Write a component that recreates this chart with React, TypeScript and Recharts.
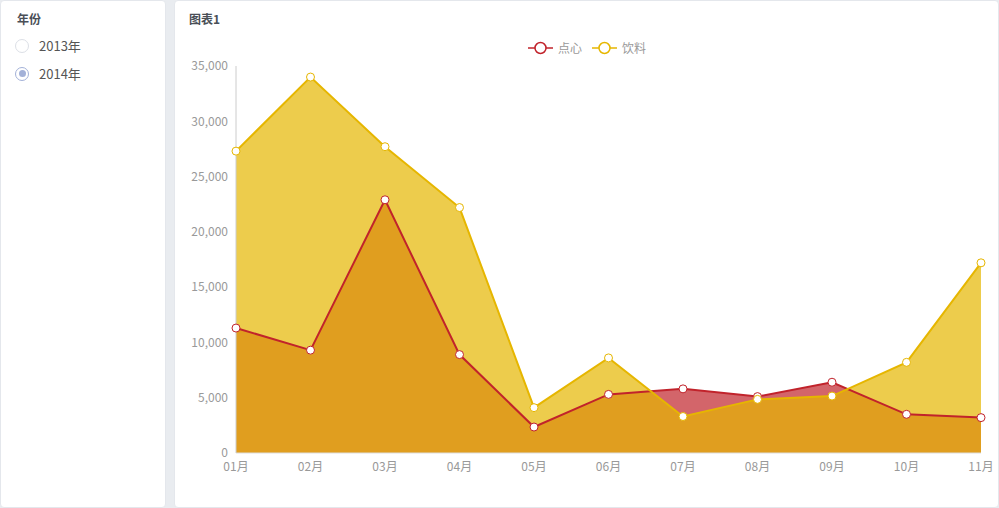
import { ComposedChart, Area, Line, XAxis, YAxis } from 'recharts'

const months = ['01月', '02月', '03月', '04月', '05月', '06月', '07月', '08月', '09月', '10月', '11月']
const snacks = [11300, 9300, 22900, 8900, 2350, 5300, 5800, 5100, 6400, 3500, 3200]
const drinks = [27300, 34000, 27700, 22200, 4100, 8600, 3300, 4850, 5150, 8200, 17200]
const yTicks = [0, 5000, 10000, 15000, 20000, 25000, 30000, 35000]
const years = ['2013年', '2014年']

const RED = '#c1232b'
const YELLOW = '#e6b600'
const FONT = '"Noto Sans CJK SC", "Noto Sans", sans-serif'

const data = months.map((m, i) => ({ month: m, snack: snacks[i], drink: drinks[i] }))

const panel: React.CSSProperties = {
  position: 'absolute',
  top: 0,
  background: '#fff',
  border: '1px solid #e4e7ec',
  borderRadius: 4,
  boxSizing: 'border-box',
  height: 508,
}

function LegendItem({ color, label }: { color: string; label: string }) {
  return (
    <div style={{ display: 'flex', alignItems: 'center', marginRight: 10 }}>
      <svg width={25} height={14}>
        <line x1={0} y1={7} x2={25} y2={7} stroke={color} strokeWidth={1.5} />
        <circle cx={12.5} cy={7} r={5.5} fill="#fff" stroke={color} strokeWidth={1.5} />
      </svg>
      <span style={{ marginLeft: 5, fontSize: 12, color: '#999' }}>{label}</span>
    </div>
  )
}

export default function App() {
  return (
    <div style={{ position: 'fixed', left: 0, top: 0, width: 999, height: 508, background: '#e9ecf0', fontFamily: FONT }}>
      <div style={{ ...panel, left: 0, width: 166 }}>
        <div style={{ position: 'absolute', left: 16, top: 9, fontSize: 12, fontWeight: 700, color: '#4a4f57' }}>年份</div>
        {years.map((y, i) => (
          <div key={y} style={{ position: 'absolute', left: 14, top: 35 + i * 28, display: 'flex', alignItems: 'center' }}>
            <div
              style={{
                width: 14,
                height: 14,
                borderRadius: '50%',
                boxSizing: 'border-box',
                border: `1px solid ${i === 1 ? '#a3b1d8' : '#dcdfe6'}`,
                display: 'flex',
                alignItems: 'center',
                justifyContent: 'center',
              }}
            >
              {i === 1 && <div style={{ width: 7, height: 7, borderRadius: '50%', background: '#a3b1d8' }} />}
            </div>
            <span style={{ marginLeft: 10, fontSize: 13, color: '#555' }}>{y}</span>
          </div>
        ))}
      </div>
      <div style={{ ...panel, left: 174, width: 825 }}>
        <div style={{ position: 'absolute', left: 14, top: 9, fontSize: 12, fontWeight: 700, color: '#4a4f57' }}>图表1</div>
        <div style={{ position: 'absolute', left: 353, top: 38, display: 'flex' }}>
          <LegendItem color={RED} label="点心" />
          <LegendItem color={YELLOW} label="饮料" />
        </div>
        <div style={{ position: 'absolute', left: -1, top: 0 }}>
          <ComposedChart width={825} height={508} data={data} margin={{ top: 65, right: 18, left: 0, bottom: 26 }}>
            <XAxis
              dataKey="month"
              tickLine={false}
              axisLine={{ stroke: '#ddd' }}
              tick={{ fill: '#999', fontSize: 12, dy: 1 }}
              padding={{ left: 0, right: 0 }}
              interval={0}
            />
            <YAxis
              width={62}
              domain={[0, 35000]}
              ticks={yTicks}
              tickLine={false}
              axisLine={{ stroke: '#ccc' }}
              tick={{ fill: '#999', fontSize: 12 }}
              tickFormatter={(v: number) => v.toLocaleString('en-US')}
            />
            <Area type="linear" dataKey="snack" stroke="none" fill={RED} fillOpacity={0.7} isAnimationActive={false} legendType="none" />
            <Area type="linear" dataKey="drink" stroke="none" fill={YELLOW} fillOpacity={0.7} isAnimationActive={false} legendType="none" />
            <Line
              type="linear"
              dataKey="snack"
              stroke={RED}
              strokeWidth={2}
              dot={{ r: 4, fill: '#fff', stroke: RED, strokeWidth: 1 }}
              isAnimationActive={false}
              legendType="none"
            />
            <Line
              type="linear"
              dataKey="drink"
              stroke={YELLOW}
              strokeWidth={2}
              dot={{ r: 4, fill: '#fff', stroke: YELLOW, strokeWidth: 1 }}
              isAnimationActive={false}
              legendType="none"
            />
          </ComposedChart>
        </div>
      </div>
    </div>
  )
}
